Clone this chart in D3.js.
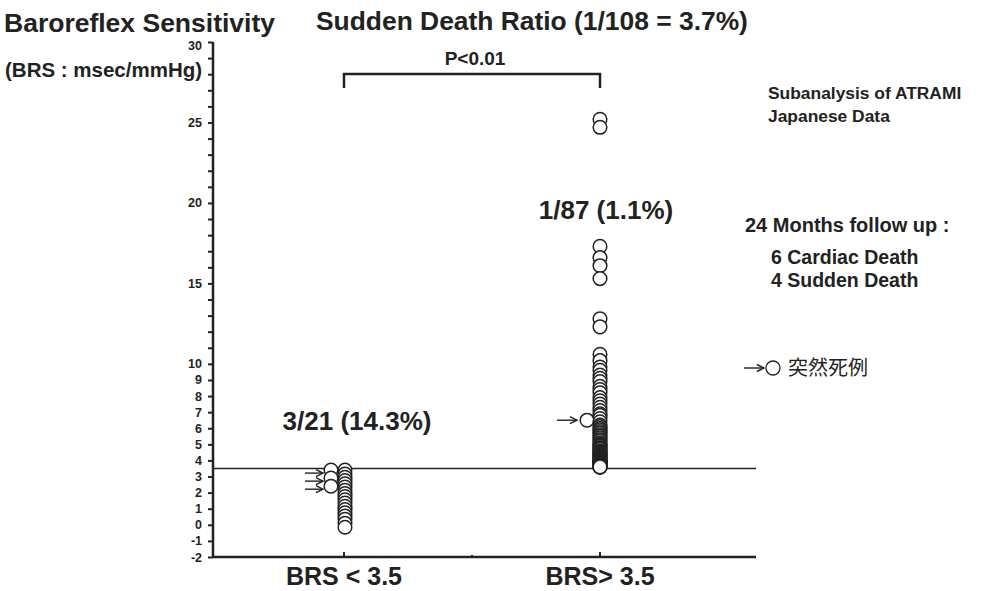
<!DOCTYPE html>
<html>
<head>
<meta charset="utf-8">
<script src="https://cdn.jsdelivr.net/npm/d3@7"></script>
<style>
  body { margin: 0; background: #fff; }
  text { font-family: "Liberation Sans", Arial, sans-serif; fill: #222; }
</style>
</head>
<body>
<div id="chart"></div>
<script>
// data
const groups = ["BRS < 3.5", "BRS> 3.5"];
const groupLabels = ["3/21 (14.3%)", "1/87 (1.1%)"];
// surviving / non-sudden cases (BRS values)
const lowBRS = [3.4, 3.15, 2.95, 2.75, 2.55, 2.35, 2.15, 1.95, 1.75, 1.55,
                1.35, 1.15, 0.95, 0.75, 0.55, 0.35, 0.1, -0.15];
const highBRS = [10.6, 10.2, 9.8, 9.6, 9.3, 9.1, 8.9, 8.6, 8.4, 8.2,
                 7.9, 7.7, 7.5, 7.3, 7.1, 6.9, 6.8, 6.6, 6.4, 6.2,
                 6.1, 6.0, 5.9, 5.8, 5.7, 5.6, 5.5, 5.4, 5.3, 5.2,
                 5.1, 5.0, 4.95, 4.9, 4.8, 4.75, 4.7, 4.6, 4.55, 4.5,
                 4.45, 4.4, 4.35, 4.3, 4.25, 4.2, 4.15, 4.1, 4.05, 4.0,
                 3.98, 3.95, 3.92, 3.9, 3.88, 3.85, 3.82, 3.8, 3.78, 3.76,
                 3.74, 3.72, 3.7, 3.69, 3.68, 3.67, 3.66, 3.65, 3.64, 3.63,
                 3.62, 3.61, 3.6, 3.6, 3.6, 3.6, 3.6, 3.6,
                 12.3, 12.8, 15.3, 16.1, 16.6, 17.3, 24.7, 25.2];
// sudden death cases
const lowDeaths = [3.4, 2.9, 2.4];
const highDeaths = [6.5];
const cutoff = 3.5;
const yTicks = d3.range(-2, 31);
const yLabels = [-2, -1, 0, 1, 2, 3, 4, 5, 6, 7, 8, 9, 10, 15, 20, 25, 30];

const width = 1004, height = 591;
const svg = d3.select("#chart").append("svg")
    .attr("width", width)
    .attr("height", height);

const x = d3.scalePoint().domain(groups).range([344, 600]);
const y = d3.scaleLinear().domain([-2, 30]).range([557, 42]);
const xLeft = 213, xRight = 756;
const ink = "#222";

// y axis
const yAxis = svg.append("g")
    .attr("transform", `translate(${xLeft},0)`)
    .call(d3.axisLeft(y).tickValues(yTicks).tickSize(5)
        .tickFormat(d => yLabels.includes(d) ? d : ""));
yAxis.select(".domain").attr("stroke", ink).attr("stroke-width", 2.5)
    .attr("d", `M0,${y(30)}V${y(-2)}`);
yAxis.selectAll(".tick line").attr("stroke", ink).attr("stroke-width", 2);
yAxis.selectAll(".tick text")
    .attr("x", -11)
    .attr("dy", d => d === 30 ? "0.62em" : "0.32em")
    .style("font-size", "12.5px")
    .style("font-weight", "bold")
    .style("font-family", "Liberation Sans, Arial, sans-serif")
    .attr("fill", ink);

// x axis
const xAxisY = y(-2);
svg.append("line")
    .attr("x1", xLeft).attr("x2", xRight)
    .attr("y1", xAxisY).attr("y2", xAxisY)
    .attr("stroke", ink).attr("stroke-width", 2.5);
const xTicks = [x(groups[0]), (x(groups[0]) + x(groups[1])) / 2, x(groups[1])];
svg.selectAll(".xtick").data(xTicks).join("line")
    .attr("x1", d => d).attr("x2", d => d)
    .attr("y1", xAxisY).attr("y2", (d, i) => xAxisY - (i === 1 ? 2 : 5))
    .attr("stroke", ink).attr("stroke-width", 2);
svg.selectAll(".xlab").data(groups).join("text")
    .attr("x", d => x(d))
    .attr("y", 585)
    .attr("text-anchor", "middle")
    .style("font-size", "25px")
    .style("font-weight", "bold")
    .text(d => d);

// cutoff line
svg.append("line")
    .attr("x1", xLeft).attr("x2", xRight)
    .attr("y1", y(cutoff)).attr("y2", y(cutoff))
    .attr("stroke", ink).attr("stroke-width", 1.5);

// points
const pts = [];
lowBRS.forEach(v => pts.push({ g: groups[0], v, dx: 1 }));
lowDeaths.forEach(v => pts.push({ g: groups[0], v, dx: -13 }));
highBRS.forEach(v => pts.push({ g: groups[1], v, dx: 0 }));
highDeaths.forEach(v => pts.push({ g: groups[1], v, dx: -13 }));
pts.sort((a, b) => b.v - a.v);

svg.append("g").selectAll("circle")
    .data(pts)
    .join("circle")
    .attr("cx", d => x(d.g) + d.dx)
    .attr("cy", d => y(d.v))
    .attr("r", 6.8)
    .attr("fill", "#fff")
    .attr("stroke", ink)
    .attr("stroke-width", 1.5);

// arrows pointing at sudden deaths
function arrow(x2, yy, len) {
    const g = svg.append("g").attr("stroke", ink).attr("fill", "none").attr("stroke-width", 1.4);
    g.append("line").attr("x1", x2 - len).attr("x2", x2).attr("y1", yy).attr("y2", yy);
    g.append("path").attr("d", `M${x2 - 7},${yy - 3.5}L${x2},${yy}L${x2 - 7},${yy + 3.5}`);
}
lowDeaths.forEach(v => arrow(x(groups[0]) - 13 - 8, y(v) + 3, 18));
highDeaths.forEach(v => arrow(x(groups[1]) - 13 - 10, y(v), 20));

// group ratio labels
svg.selectAll(".glab").data(groupLabels).join("text")
    .attr("x", (d, i) => i === 0 ? 357 : 606)
    .attr("y", (d, i) => i === 0 ? 430 : 219)
    .attr("text-anchor", "middle")
    .style("font-size", "26px")
    .style("font-weight", "bold")
    .text(d => d);

// significance bracket
const by = 74;
svg.append("path")
    .attr("d", `M${x(groups[0])},${by + 14}V${by}H${x(groups[1])}V${by + 14}`)
    .attr("fill", "none").attr("stroke", ink).attr("stroke-width", 2.5);
svg.append("text")
    .attr("x", (x(groups[0]) + x(groups[1])) / 2 + 3).attr("y", 65)
    .attr("text-anchor", "middle")
    .style("font-size", "19px").style("font-weight", "bold")
    .text("P<0.01");

// titles
svg.append("text").attr("x", 4).attr("y", 32)
    .style("font-size", "26.5px").style("font-weight", "bold")
    .text("Baroreflex Sensitivity");
svg.append("text").attr("x", 5).attr("y", 77)
    .style("font-size", "20.5px").style("font-weight", "bold")
    .text("(BRS : msec/mmHg)");
svg.append("text").attr("x", 316).attr("y", 30)
    .style("font-size", "26.4px").style("font-weight", "bold")
    .text("Sudden Death Ratio (1/108 = 3.7%)");

// side notes
const notes = [
    { t: "Subanalysis of ATRAMI", x: 768, y: 99, s: 17.4 },
    { t: "Japanese Data", x: 768, y: 122, s: 17.4 },
    { t: "24 Months follow up :", x: 745, y: 232, s: 20 },
    { t: "6 Cardiac Death", x: 771, y: 264, s: 19.5 },
    { t: "4 Sudden Death", x: 771, y: 287, s: 19.5 }
];
svg.selectAll(".note").data(notes).join("text")
    .attr("x", d => d.x).attr("y", d => d.y)
    .style("font-size", d => d.s + "px").style("font-weight", "bold")
    .text(d => d.t);

// legend
arrow(764, 368, 20);
svg.append("circle").attr("cx", 773).attr("cy", 368).attr("r", 7)
    .attr("fill", "#fff").attr("stroke", ink).attr("stroke-width", 1.3);
svg.append("text").attr("x", 788).attr("y", 375)
    .style("font-family", "'Noto Sans CJK JP', sans-serif")
    .style("font-size", "20px")
    .text("突然死例");
</script>
</body>
</html>
